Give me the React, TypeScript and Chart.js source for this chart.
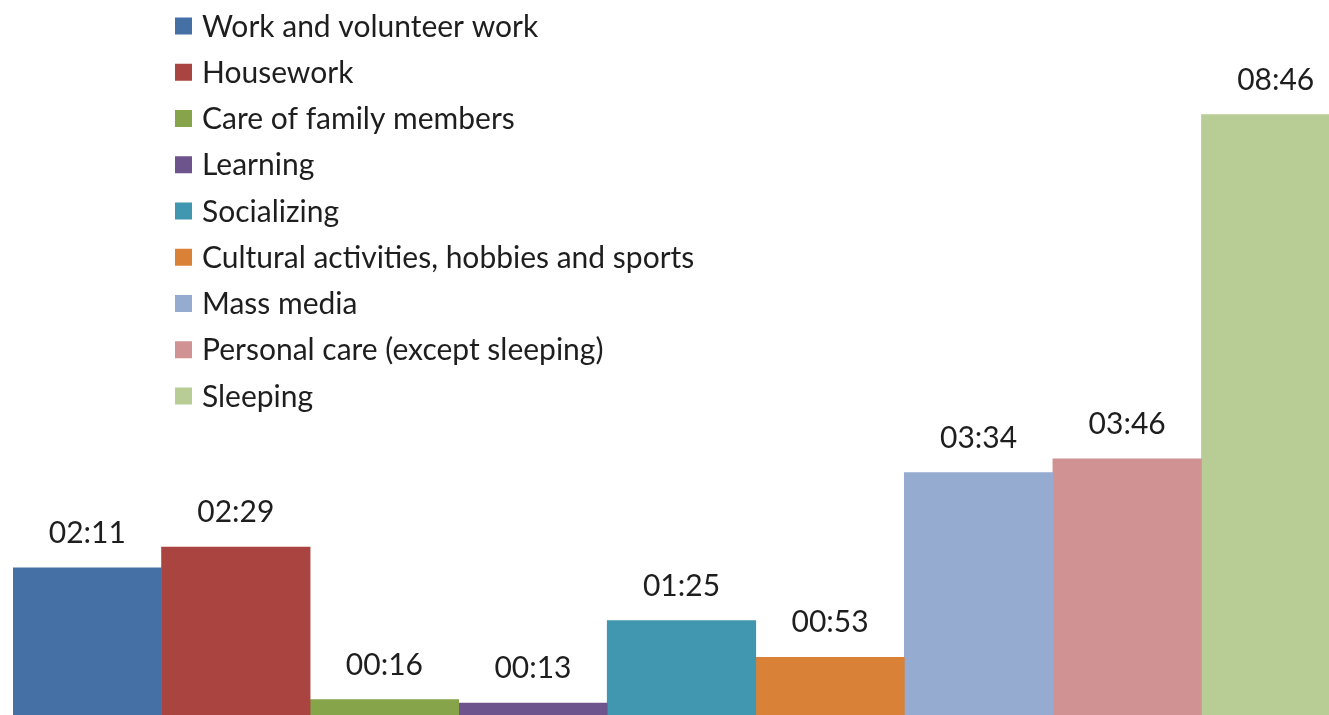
import React, { useEffect, useRef } from "react";
import { Chart, registerables } from "chart.js";

Chart.register(...registerables);

const categories = [
  "Work and volunteer work",
  "Housework",
  "Care of family members",
  "Learning",
  "Socializing",
  "Cultural activities, hobbies and sports",
  "Mass media",
  "Personal care (except sleeping)",
  "Sleeping",
];

// minutes per day
const minutes = [131, 149, 16, 13, 85, 53, 214, 226, 526];

const colors = [
  "#4470A5",
  "#A94441",
  "#86A44A",
  "#6E548D",
  "#4097AF",
  "#DA8138",
  "#95ABD0",
  "#D09292",
  "#B8CD95",
];

const yMax = 626;

const FONT = "Lato, 'Open Sans', sans-serif";
const TEXT_COLOR = "#1e1e1e";

function fmt(m: number): string {
  const h = Math.floor(m / 60);
  const mm = m % 60;
  return String(h).padStart(2, "0") + ":" + String(mm).padStart(2, "0");
}

const valueLabels = {
  id: "valueLabels",
  afterDatasetsDraw(chart: any) {
    const ctx = chart.ctx;
    ctx.save();
    ctx.font = `30px ${FONT}`;
    ctx.fillStyle = TEXT_COLOR;
    ctx.textAlign = "center";
    ctx.textBaseline = "alphabetic";
    chart.data.datasets.forEach((ds: any, i: number) => {
      const meta = chart.getDatasetMeta(i);
      const el = meta.data[0];
      if (!el) return;
      ctx.fillText(fmt(ds.data[0]), el.x, el.y - 25);
    });
    ctx.restore();
  },
};

const sideLegend = {
  id: "sideLegend",
  afterDraw(chart: any) {
    const ctx = chart.ctx;
    ctx.save();
    ctx.font = `30px ${FONT}`;
    ctx.textAlign = "left";
    ctx.textBaseline = "alphabetic";
    chart.data.datasets.forEach((ds: any, i: number) => {
      const base = 36.5 + i * 46.25;
      ctx.fillStyle = ds.backgroundColor;
      ctx.fillRect(162, base - 19, 17, 17);
      ctx.fillStyle = TEXT_COLOR;
      ctx.fillText(ds.label, 189, base);
    });
    ctx.restore();
  },
};

export default function App() {
  const ref = useRef<HTMLCanvasElement>(null);

  useEffect(() => {
    document.body.style.margin = "0";
    document.body.style.overflow = "hidden";
    const canvas = ref.current;
    if (!canvas) return;
    const chart = new Chart(canvas, {
      type: "bar",
      data: {
        labels: [""],
        datasets: categories.map((c, i) => ({
          label: c,
          data: [minutes[i]],
          backgroundColor: colors[i],
          borderWidth: 0,
          categoryPercentage: 1,
          barPercentage: 1,
        })),
      },
      options: {
        responsive: false,
        animation: false,
        layout: { padding: 0 },
        plugins: {
          legend: { display: false },
          tooltip: { enabled: false },
          title: { display: false },
        },
        scales: {
          x: { display: false, grid: { display: false } },
          y: { display: false, min: 0, max: yMax, grid: { display: false } },
        },
      },
      plugins: [valueLabels, sideLegend],
    });
    return () => chart.destroy();
  }, []);

  return (
    <div style={{ position: "fixed", left: 0, top: 0, width: 1363, height: 718, background: "#fff" }}>
      <canvas
        ref={ref}
        width={1337}
        height={718}
        style={{ position: "absolute", left: 13, top: 0, display: "block" }}
      />
    </div>
  );
}
